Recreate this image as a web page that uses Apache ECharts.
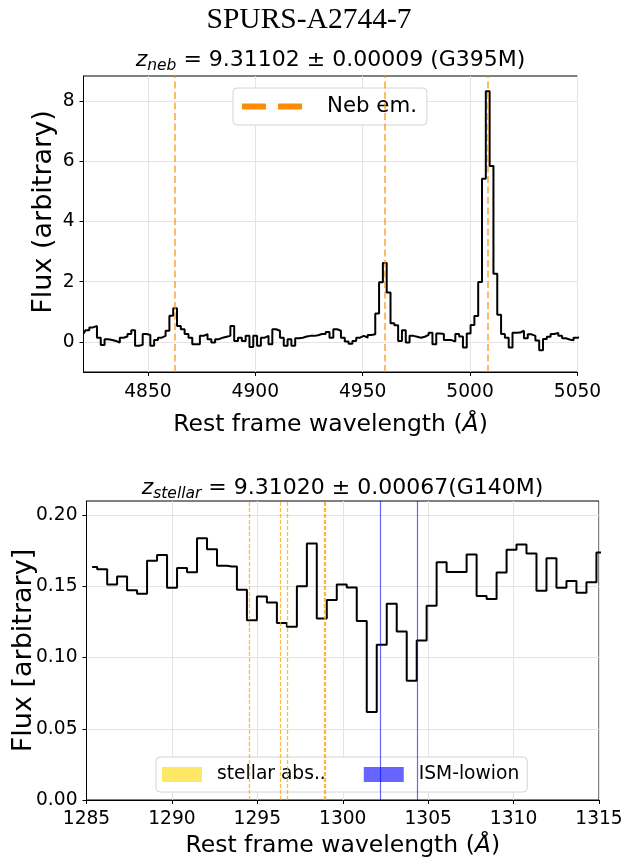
<!DOCTYPE html>
<html><head><meta charset="utf-8">
<script src="https://cdn.jsdelivr.net/npm/echarts@6/dist/echarts.min.js"></script>
<style>html,body{margin:0;padding:0;background:#fff}#c{width:626px;height:861px}</style>
</head><body><div id="c"></div>
<script>
// ---------- Top panel: nebular emission (G395M) ----------
const topWave = [
4820.05,4821.83,4823.60,4825.38,4827.15,4828.93,4830.70,4832.48,4834.25,4836.03,
4837.80,4839.58,4841.35,4843.13,4844.90,4846.68,4848.45,4850.23,4852.00,4853.78,
4855.55,4857.33,4859.10,4860.88,4862.65,4864.43,4866.20,4867.98,4869.75,4871.53,
4873.30,4875.08,4876.85,4878.63,4880.40,4882.18,4883.95,4885.73,4887.50,4889.28,
4891.05,4892.83,4894.60,4896.38,4898.15,4899.93,4901.70,4903.48,4905.25,4907.03,
4908.80,4910.58,4912.35,4914.13,4915.90,4917.68,4919.45,4921.23,4923.00,4924.78,
4926.55,4928.33,4930.10,4931.88,4933.65,4935.43,4937.20,4938.98,4940.75,4942.53,
4944.30,4946.08,4947.85,4949.63,4951.40,4953.18,4954.95,4956.73,4958.50,4960.28,
4962.05,4963.83,4965.60,4967.38,4969.15,4970.93,4972.70,4974.48,4976.25,4978.03,
4979.80,4981.58,4983.35,4985.13,4986.90,4988.68,4990.45,4992.23,4994.00,4995.78,
4997.55,4999.33,5001.10,5002.88,5004.65,5006.43,5008.20,5009.98,5011.75,5013.53,
5015.30,5017.08,5018.85,5020.63,5022.40,5024.18,5025.95,5027.73,5029.50,5031.28,
5033.05,5034.83,5036.60,5038.38,5040.15,5041.93,5043.70,5045.48,5047.25,5049.03,
5050.80];
const topFlux = [
0.28,0.39,0.48,0.53,0.14,-0.10,0.09,0.06,0.03,-0.02,
0.14,0.18,0.26,0.39,-0.13,-0.10,0.26,0.23,-0.13,0.06,
0.14,0.20,0.37,0.87,1.12,0.53,0.42,0.26,0.14,-0.08,
-0.08,0.20,0.26,0.09,-0.02,0.09,0.14,0.17,0.20,0.53,
0.03,0.14,0.03,0.20,-0.17,0.20,-0.13,0.14,0.20,-0.08,
0.42,0.37,0.14,-0.13,0.09,-0.13,0.12,0.14,0.18,0.20,
0.20,0.22,0.26,0.26,0.33,0.14,0.42,0.37,0.14,0.01,
-0.06,0.03,0.14,0.20,0.14,0.23,0.25,0.94,1.98,2.62,
1.64,0.62,0.55,0.03,0.39,-0.02,0.20,0.17,0.14,0.17,
0.23,0.30,-0.08,0.28,0.26,0.06,0.06,0.01,0.26,0.18,
-0.19,0.28,0.56,0.86,1.99,5.42,8.32,5.84,2.26,0.90,
0.26,0.14,-0.19,0.30,0.31,0.37,0.12,0.25,0.20,0.05,
-0.28,0.10,0.17,0.26,0.30,0.20,0.12,0.08,0.05,0.14,
0.15];
const nebLines = [4862.68, 4960.30, 5008.24];
const topXTicks = [4850, 4900, 4950, 5000, 5050];
const topYTicks = [0, 2, 4, 6, 8];

// ---------- Bottom panel: stellar continuum (G140M) ----------
const botWave = [
1285.33,1285.92,1286.50,1287.08,1287.67,1288.25,1288.84,1289.42,1290.01,1290.59,
1291.18,1291.76,1292.35,1292.93,1293.51,1294.10,1294.68,1295.27,1295.85,1296.44,
1297.02,1297.61,1298.19,1298.77,1299.36,1299.94,1300.53,1301.11,1301.70,1302.28,
1302.87,1303.45,1304.04,1304.62,1305.20,1305.79,1306.37,1306.96,1307.54,1308.13,
1308.71,1309.30,1309.88,1310.46,1311.05,1311.63,1312.22,1312.80,1313.39,1313.97,
1314.56,1315.14];
const botFlux = [
0.1637,0.1620,0.1514,0.1570,0.1474,0.1448,0.1680,0.1720,0.1490,0.1630,
0.1600,0.1839,0.1761,0.1645,0.1640,0.1476,0.1263,0.1429,0.1387,0.1244,
0.1216,0.1502,0.1801,0.1275,0.1404,0.1514,0.1493,0.1258,0.0618,0.1090,
0.1378,0.1184,0.0837,0.1121,0.1364,0.1670,0.1602,0.1602,0.1724,0.1432,
0.1411,0.1598,0.1757,0.1794,0.1731,0.1469,0.1698,0.1490,0.1539,0.1455,
0.1530,0.1738];
const stellarLines = [1294.54, 1296.33, 1296.73, 1298.89, 1298.96];
const ismLines = [1302.17, 1304.37];
const botXTicks = [1285, 1290, 1295, 1300, 1305, 1310, 1315];
const botYTicks = [0, 0.05, 0.10, 0.15, 0.20];

// ---------- chart ----------
const FONT = 'DejaVu Sans';
const TICK_FS = 18.67;
const XLABEL_FS = 23.5;
const YLABEL_FS = 27;
const chart = echarts.init(document.getElementById('c'), null, {renderer: 'canvas'});

const zip = (xs, ys) => xs.map((x, i) => [x, ys[i]]);
const gridLine = {show: true, lineStyle: {color: '#e4e4e4', width: 1}};
const axisLine = {show: true, onZero: false, lineStyle: {color: '#000', width: 1}};
const tickStyle = {show: true, inside: false, length: 4, lineStyle: {color: '#000', width: 1}};
const labelBase = {color: '#000', fontFamily: FONT, fontSize: TICK_FS, formatter: v => String(v)};
const xNameStyle = {color: '#000', fontFamily: FONT, fontSize: XLABEL_FS,
  rich: {a: {fontFamily: FONT, fontSize: XLABEL_FS, fontStyle: 'italic', color: '#000'}}};

const subRich = {
  i: {fontFamily: FONT, fontStyle: 'italic', fontWeight: 'normal', fontSize: 22, lineHeight: 28, color: '#000'},
  s: {fontFamily: FONT, fontStyle: 'italic', fontWeight: 'normal', fontSize: 15.5, lineHeight: 14, verticalAlign: 'bottom', color: '#000'},
  r: {fontFamily: FONT, fontWeight: 'normal', fontSize: 22, lineHeight: 28, color: '#000'}
};

const option = {
  animation: false,
  backgroundColor: '#fff',
  title: [
    {text: 'SPURS-A2744-7', left: 309, top: 20, textAlign: 'center', textVerticalAlign: 'middle', padding: 0,
     textStyle: {fontFamily: 'Liberation Serif', fontSize: 29.5, fontWeight: 'normal', color: '#000'}},
    {text: '{i|z}{s|neb}{r| = 9.31102 ± 0.00009 (G395M)}', left: 330.5, top: 60, textAlign: 'center', textVerticalAlign: 'middle', padding: 0,
     textStyle: {fontWeight: 'normal', rich: subRich}},
    {text: '{i|z}{s|stellar}{r| = 9.31020 ± 0.00067(G140M)}', left: 342.5, top: 488, textAlign: 'center', textVerticalAlign: 'middle', padding: 0,
     textStyle: {fontWeight: 'normal', rich: subRich}}
  ],
  grid: [
    {left: 83.5, top: 76, width: 494, height: 296, show: true, borderColor: '#000', borderWidth: 1,
     backgroundColor: 'transparent', containLabel: false, outerBoundsMode: 'none'},
    {left: 86.5, top: 501, width: 512.5, height: 299, show: true, borderColor: '#000', borderWidth: 1,
     backgroundColor: 'transparent', containLabel: false, outerBoundsMode: 'none'}
  ],
  xAxis: [
    {type: 'value', gridIndex: 0, min: 4820, max: 5050,
     axisLine, axisTick: Object.assign({customValues: topXTicks}, tickStyle),
     axisLabel: Object.assign({customValues: topXTicks, margin: 11}, labelBase),
     splitLine: gridLine,
     name: 'Rest frame wavelength ({a|Å})', nameLocation: 'middle', nameGap: 41, nameMoveOverlap: false, nameTextStyle: xNameStyle},
    {type: 'value', gridIndex: 1, min: 1285, max: 1315,
     axisLine, axisTick: Object.assign({customValues: botXTicks}, tickStyle),
     axisLabel: Object.assign({customValues: botXTicks, margin: 10}, labelBase),
     splitLine: gridLine,
     name: 'Rest frame wavelength ({a|Å})', nameLocation: 'middle', nameGap: 34, nameMoveOverlap: false, nameTextStyle: xNameStyle}
  ],
  yAxis: [
    {type: 'value', gridIndex: 0, min: -1, max: 8.83,
     axisLine, axisTick: Object.assign({customValues: topYTicks}, tickStyle),
     axisLabel: Object.assign({customValues: topYTicks, margin: 9}, labelBase),
     splitLine: gridLine,
     name: 'Flux (arbitrary)', nameLocation: 'middle', nameGap: 26, nameMoveOverlap: false,
     nameTextStyle: {color: '#000', fontFamily: FONT, fontSize: YLABEL_FS, padding: [0, 0, 0, 24]}},
    {type: 'value', gridIndex: 1, min: 0, max: 0.21,
     axisLine, axisTick: Object.assign({customValues: botYTicks}, tickStyle),
     axisLabel: Object.assign({}, labelBase, {customValues: botYTicks, margin: 9, formatter: v => v.toFixed(2)}),
     splitLine: gridLine,
     name: 'Flux [arbitrary]', nameLocation: 'middle', nameGap: 49, nameMoveOverlap: false,
     nameTextStyle: {color: '#000', fontFamily: FONT, fontSize: YLABEL_FS}}
  ],
  legend: [
    {left: 233, top: 88, orient: 'horizontal', selectedMode: false,
     padding: [8, 10, 8, 9], backgroundColor: '#fff', borderColor: '#d4d4d4', borderWidth: 1, borderRadius: 4,
     itemWidth: 60, itemHeight: 6,
     data: [{name: 'Neb em.', icon: 'path://M0,0h24v6h-24z M36,0h24v6h-24z', itemStyle: {color: '#ff8c00', borderWidth: 0}}],
     formatter: n => '{g| }' + n,
     textStyle: {color: '#000', fontFamily: FONT, fontSize: 21.3, rich: {g: {width: 20, fontSize: 21.3}}}},
    {left: 156, top: 757, orient: 'horizontal', selectedMode: false,
     padding: [8, 8, 8, 6], backgroundColor: '#fff', borderColor: '#d4d4d4', borderWidth: 1, borderRadius: 4,
     itemWidth: 40, itemHeight: 15, itemGap: 38,
     data: [
       {name: 'stellar abs..', icon: 'rect', itemStyle: {color: 'rgba(255,215,0,0.6)', borderWidth: 0}},
       {name: 'ISM-lowion', icon: 'rect', itemStyle: {color: 'rgba(0,0,255,0.6)', borderWidth: 0}}
     ],
     formatter: n => '{g| }' + n,
     textStyle: {color: '#000', fontFamily: FONT, fontSize: TICK_FS, rich: {g: {width: 10, fontSize: TICK_FS}}}}
  ],
  series: [
    {name: 'spec_neb', type: 'line', xAxisIndex: 0, yAxisIndex: 0, step: 'middle', showSymbol: false, symbol: 'none',
     data: zip(topWave, topFlux), lineStyle: {color: '#000', width: 2}, z: 2, silent: true},
    {name: 'Neb em.', type: 'line', xAxisIndex: 0, yAxisIndex: 0, data: [], color: '#ff8c00', z: 3, silent: true,
     markLine: {silent: true, symbol: ['none', 'none'], label: {show: false},
       lineStyle: {color: 'rgba(255,140,0,0.6)', width: 2, type: [7, 3.5]},
       data: nebLines.map(v => ({xAxis: v}))}},
    {name: 'spec_stellar', type: 'line', xAxisIndex: 1, yAxisIndex: 1, step: 'middle', showSymbol: false, symbol: 'none',
     data: zip(botWave, botFlux), lineStyle: {color: '#000', width: 2}, z: 2, silent: true},
    {name: 'stellar abs..', type: 'line', xAxisIndex: 1, yAxisIndex: 1, data: [], color: 'rgba(255,215,0,0.6)', z: 3, silent: true,
     markLine: {silent: true, symbol: ['none', 'none'], label: {show: false},
       lineStyle: {color: 'rgba(255,165,0,0.75)', width: 1.3, type: [4, 2]},
       data: stellarLines.map(v => ({xAxis: v}))}},
    {name: 'ISM-lowion', type: 'line', xAxisIndex: 1, yAxisIndex: 1, data: [], color: 'rgba(0,0,255,0.6)', z: 3, silent: true,
     markLine: {silent: true, symbol: ['none', 'none'], label: {show: false},
       lineStyle: {color: 'rgba(0,0,255,0.6)', width: 1.2, type: 'solid'},
       data: ismLines.map(v => ({xAxis: v}))}}
  ]
};
chart.setOption(option);
</script></body></html>
